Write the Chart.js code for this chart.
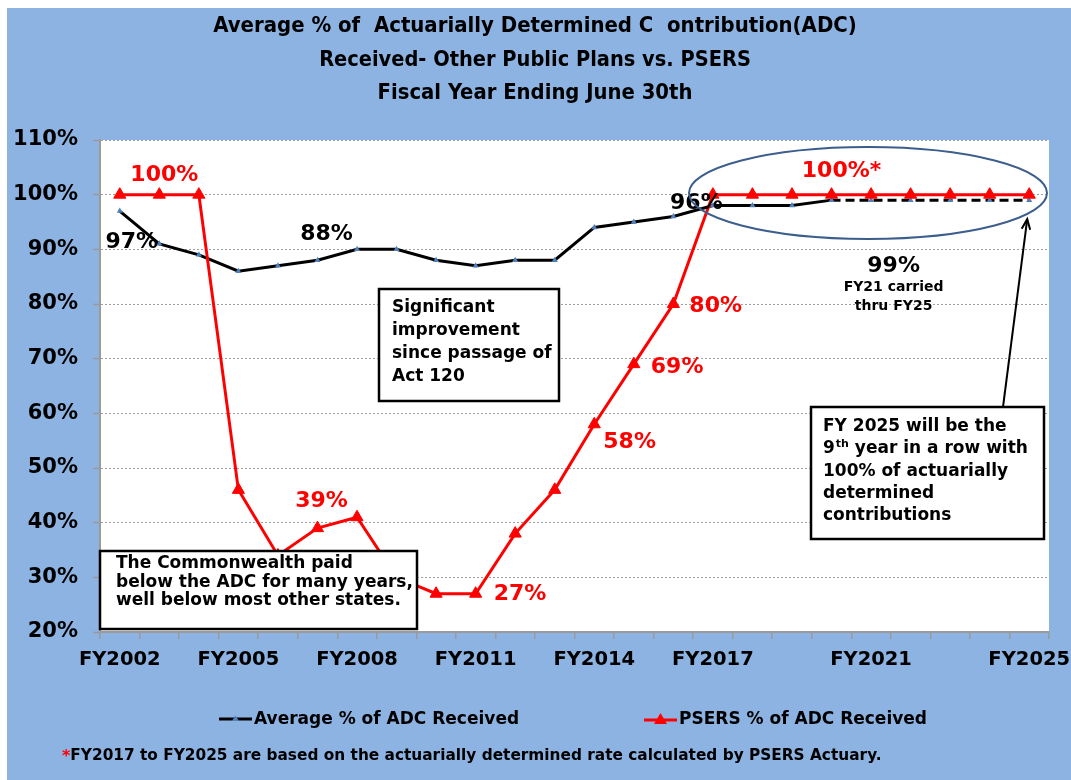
<!DOCTYPE html>
<html>
<head>
<meta charset="utf-8">
<script src="https://cdn.jsdelivr.net/npm/chart.js@4.4.1/dist/chart.umd.min.js"></script>
<style>
html,body{margin:0;padding:0;background:#fff;}
#wrap{position:relative;width:1071px;height:780px;}
</style>
</head>
<body>
<div id="wrap"><canvas id="c" width="1071" height="780"></canvas></div>
<script>
// ---------------- data ----------------
const categories = ['FY2002','FY2003','FY2004','FY2005','FY2006','FY2007','FY2008','FY2009','FY2010','FY2011','FY2012','FY2013','FY2014','FY2015','FY2016','FY2017','FY2018','FY2019','FY2020','FY2021','FY2022','FY2023','FY2024','FY2025'];
const shownTickLabels = ['FY2002','FY2005','FY2008','FY2011','FY2014','FY2017','FY2021','FY2025'];
const avgAdcReceived = [97,91,89,86,87,88,90,90,88,87,88,88,94,95,96,98,98,98,99,99,99,99,99,99];
const psersAdcReceived = [100,100,100,46,34,39,41,30,27,27,38,46,58,69,80,100,100,100,100,100,100,100,100,100];
const yTickValues = [20,30,40,50,60,70,80,90,100,110];
const projectedFrom = 'FY2020';
const seriesNames = ['Average % of ADC Received','PSERS % of ADC Received'];
const titleLines = ['Average % of  Actuarially Determined C  ontribution(ADC)','Received- Other Public Plans vs. PSERS','Fiscal Year Ending June 30th'];
const footnote = 'FY2017 to FY2025 are based on the actuarially determined rate calculated by PSERS Actuary.';

// ---------------- style ----------------
const FONT = "'DejaVu Sans', Verdana, sans-serif";
const COND = "'DejaVu Sans Condensed', 'DejaVu Sans', sans-serif";
const BLUE_BG = '#8DB3E2';
const RED = '#FF0000';
const MARK_BLUE = '#4F81BD';

function txt(ctx, s, x, y, size, color, align, fam) {
  ctx.font = 'bold ' + size + 'px ' + (fam || FONT);
  ctx.fillStyle = color;
  ctx.textAlign = align || 'center';
  ctx.textBaseline = 'middle';
  ctx.fillText(s, x, y);
}
function fitSize(ctx, s, width, fam) {
  ctx.font = 'bold 100px ' + fam;
  return 100 * width / ctx.measureText(s).width;
}
function boxText(ctx, x, y, w, h) {
  ctx.save();
  ctx.fillStyle = '#fff';
  ctx.fillRect(x, y, w, h);
  ctx.lineWidth = 2.5;
  ctx.strokeStyle = '#000';
  ctx.strokeRect(x, y, w, h);
  ctx.restore();
}

const decor = {
  id: 'decor',
  beforeDraw(chart) {
    const ctx = chart.ctx, a = chart.chartArea;
    ctx.save();
    ctx.fillStyle = '#fff';
    ctx.fillRect(0, 0, chart.width, chart.height);
    ctx.fillStyle = BLUE_BG;
    ctx.fillRect(7, 8, chart.width - 7, chart.height - 8);
    ctx.fillStyle = '#fff';
    ctx.fillRect(a.left, a.top, a.right - a.left, a.bottom - a.top);
    ctx.restore();
  },
  afterDatasetsDraw(chart) {
    const ctx = chart.ctx;
    const xs = chart.scales.x, ys = chart.scales.y;
    const px = (c) => xs.getPixelForValue(categories.indexOf(c));
    const py = (v) => ys.getPixelForValue(v);
    const iOf = (c) => categories.indexOf(c);
    ctx.save();

    // data labels anchored to points
    txt(ctx, '100%', px('FY2003') + 5, py(psersAdcReceived[iOf('FY2003')]) - 19, 22, RED);
    txt(ctx, '97%', px('FY2002') + 12, py(avgAdcReceived[iOf('FY2002')]) + 31, 22, '#000');
    txt(ctx, '88%', px('FY2007') + 9, py(avgAdcReceived[iOf('FY2007')]) - 26, 22, '#000');
    txt(ctx, '39%', px('FY2007') + 4, py(psersAdcReceived[iOf('FY2007')]) - 27, 22, RED);
    txt(ctx, '27%', px('FY2011') + 18, py(psersAdcReceived[iOf('FY2011')]) + 1, 22, RED, 'left');
    txt(ctx, '58%', px('FY2014') + 9, py(psersAdcReceived[iOf('FY2014')]) + 18, 22, RED, 'left');
    txt(ctx, '69%', px('FY2015') + 17, py(psersAdcReceived[iOf('FY2015')]) + 3, 22, RED, 'left');
    txt(ctx, '80%', px('FY2016') + 16, py(psersAdcReceived[iOf('FY2016')]) + 2, 22, RED, 'left');
    txt(ctx, '96%', px('FY2016') + 23, py(avgAdcReceived[iOf('FY2016')]) - 13, 22, '#000');
    txt(ctx, '100%*', px('FY2020') + 10, py(psersAdcReceived[iOf('FY2020')]) - 23, 22, RED);
    const cx99 = px('FY2022') - 17;
    txt(ctx, '99%', cx99, py(avgAdcReceived[iOf('FY2022')]) + 66, 22, '#000');
    txt(ctx, 'FY21 carried', cx99, py(avgAdcReceived[iOf('FY2022')]) + 87, 14, '#000');
    txt(ctx, 'thru FY25', cx99, py(avgAdcReceived[iOf('FY2022')]) + 106, 14, '#000');

    // ellipse around projected years
    ctx.beginPath();
    ctx.ellipse(868, 193, 179, 46, 0, 0, Math.PI * 2);
    ctx.lineWidth = 2;
    ctx.strokeStyle = '#3B5E8C';
    ctx.stroke();

    // "Significant improvement" box
    boxText(ctx, 379, 289, 180, 112);
    ['Significant', 'improvement', 'since passage of', 'Act 120'].forEach((s, i) => txt(ctx, s, 392, 308 + i * 22.7, 17, '#000', 'left'));

    // Commonwealth box
    boxText(ctx, 100, 551, 317, 78);
    ['The Commonwealth paid', 'below the ADC for many years,', 'well below most other states.'].forEach((s, i) => txt(ctx, s, 116, 564 + i * 18.5, 17, '#000', 'left'));

    // FY 2025 box
    boxText(ctx, 811, 407, 233, 132);
    const lx = 823;
    txt(ctx, 'FY 2025 will be the', lx, 427, 17, '#000', 'left');
    txt(ctx, '9', lx, 449, 17, '#000', 'left');
    ctx.font = 'bold 17px ' + FONT;
    const w9 = ctx.measureText('9').width;
    txt(ctx, 'th', lx + w9 + 1, 444, 11, '#000', 'left');
    ctx.font = 'bold 11px ' + FONT;
    const wth = ctx.measureText('th').width;
    txt(ctx, ' year in a row with', lx + w9 + 1 + wth, 449, 17, '#000', 'left');
    txt(ctx, '100% of actuarially', lx, 472, 17, '#000', 'left');
    txt(ctx, 'determined', lx, 494, 17, '#000', 'left');
    txt(ctx, 'contributions', lx, 516, 17, '#000', 'left');

    // arrow from box to FY2025 point
    const tipX = px('FY2025') - 2, tipY = py(avgAdcReceived[iOf('FY2025')]) + 19;
    const fromX = 1003, fromY = 407;
    ctx.beginPath();
    ctx.moveTo(fromX, fromY);
    ctx.lineTo(tipX, tipY);
    ctx.lineWidth = 2;
    ctx.strokeStyle = '#000';
    ctx.stroke();
    const ang = Math.atan2(tipY - fromY, tipX - fromX);
    ctx.beginPath();
    ctx.moveTo(tipX - 11 * Math.cos(ang - 0.4), tipY - 11 * Math.sin(ang - 0.4));
    ctx.lineTo(tipX, tipY);
    ctx.lineTo(tipX - 11 * Math.cos(ang + 0.4), tipY - 11 * Math.sin(ang + 0.4));
    ctx.stroke();

    ctx.restore();
  },
  afterDraw(chart) {
    const ctx = chart.ctx;
    ctx.save();
    // title
    const tW = [644, 432, 315], tY = [26, 60, 93];
    titleLines.forEach((s, i) => {
      const sz = fitSize(ctx, s, tW[i], COND);
      txt(ctx, s, 535, tY[i], sz, '#000', 'center', COND);
    });
    // legend
    ctx.lineWidth = 3;
    ctx.strokeStyle = '#000';
    ctx.beginPath(); ctx.moveTo(219, 719); ctx.lineTo(252, 719); ctx.stroke();
    ctx.fillStyle = MARK_BLUE;
    ctx.beginPath(); ctx.moveTo(235.5, 715.5); ctx.lineTo(239, 721); ctx.lineTo(232, 721); ctx.closePath(); ctx.fill();
    txt(ctx, seriesNames[0], 254, 720, 17, '#000', 'left');
    ctx.strokeStyle = RED;
    ctx.beginPath(); ctx.moveTo(644, 720); ctx.lineTo(677, 720); ctx.stroke();
    ctx.fillStyle = RED;
    ctx.beginPath(); ctx.moveTo(660.5, 713); ctx.lineTo(667, 724); ctx.lineTo(654, 724); ctx.closePath(); ctx.fill();
    txt(ctx, seriesNames[1], 679, 720, 17, '#000', 'left');
    // footnote
    txt(ctx, '*', 62, 757, 16, RED, 'left');
    ctx.font = 'bold 16px ' + FONT;
    const sw = ctx.measureText('*').width;
    const fs = fitSize(ctx, footnote, 882 - 62 - sw, FONT);
    txt(ctx, footnote, 62 + sw, 756, fs, '#000', 'left');
    ctx.restore();
  }
};

const ctx = document.getElementById('c').getContext('2d');
new Chart(ctx, {
  type: 'line',
  data: {
    labels: categories,
    datasets: [
      {
        label: seriesNames[1],
        data: psersAdcReceived,
        borderColor: RED,
        backgroundColor: RED,
        borderWidth: 3,
        pointStyle: 'triangle',
        pointRadius: 7,
        pointBackgroundColor: RED,
        pointBorderColor: RED,
        pointBorderWidth: 1,
        tension: 0,
        fill: false
      },
      {
        label: seriesNames[0],
        data: avgAdcReceived,
        borderColor: '#000',
        backgroundColor: MARK_BLUE,
        borderWidth: 3,
        pointStyle: 'triangle',
        pointRadius: 3.5,
        pointBackgroundColor: MARK_BLUE,
        pointBorderColor: MARK_BLUE,
        pointBorderWidth: 0,
        tension: 0,
        fill: false,
        segment: {
          borderDash: (c) => c.p0DataIndex >= categories.indexOf(projectedFrom) ? [9, 5] : undefined
        }
      }
    ]
  },
  options: {
    responsive: false,
    animation: false,
    devicePixelRatio: 1,
    layout: { padding: { top: 140, right: 22, left: 0, bottom: 0 } },
    plugins: {
      legend: { display: false },
      title: { display: false },
      tooltip: { enabled: false }
    },
    scales: {
      x: {
        type: 'category',
        offset: true,
        afterFit(s) { s.height = 148; s.paddingLeft = 0; s.paddingRight = 0; },
        grid: {
          display: true,
          offset: true,
          drawOnChartArea: false,
          drawTicks: true,
          tickLength: 7,
          color: '#9A9A9A',
          lineWidth: 1.5
        },
        border: { display: true, color: '#9A9A9A', width: 2 },
        ticks: {
          autoSkip: false,
          maxRotation: 0,
          minRotation: 0,
          padding: 9,
          color: '#000',
          font: { family: FONT, size: 19.5, weight: 'bold' },
          callback(v, i) {
            const l = categories[i];
            return shownTickLabels.includes(l) ? l : '';
          }
        }
      },
      y: {
        min: 20,
        max: 110,
        afterFit(s) { s.width = 100; s.paddingTop = 0; s.paddingBottom = 0; },
        afterBuildTicks(s) { s.ticks = yTickValues.map(v => ({ value: v })); },
        grid: {
          color: '#A0A0A0',
          lineWidth: 1,
          tickLength: 7,
          tickColor: '#9A9A9A',
          tickWidth: 1.5,
          tickBorderDash: []
        },
        border: { display: true, color: '#9A9A9A', width: 2, dash: [2, 2] },
        ticks: {
          padding: 15,
          color: '#000',
          font: { family: FONT, size: 21, weight: 'bold' },
          callback(v) { return v + '%'; }
        }
      }
    }
  },
  plugins: [decor]
});
</script>
</body>
</html>
